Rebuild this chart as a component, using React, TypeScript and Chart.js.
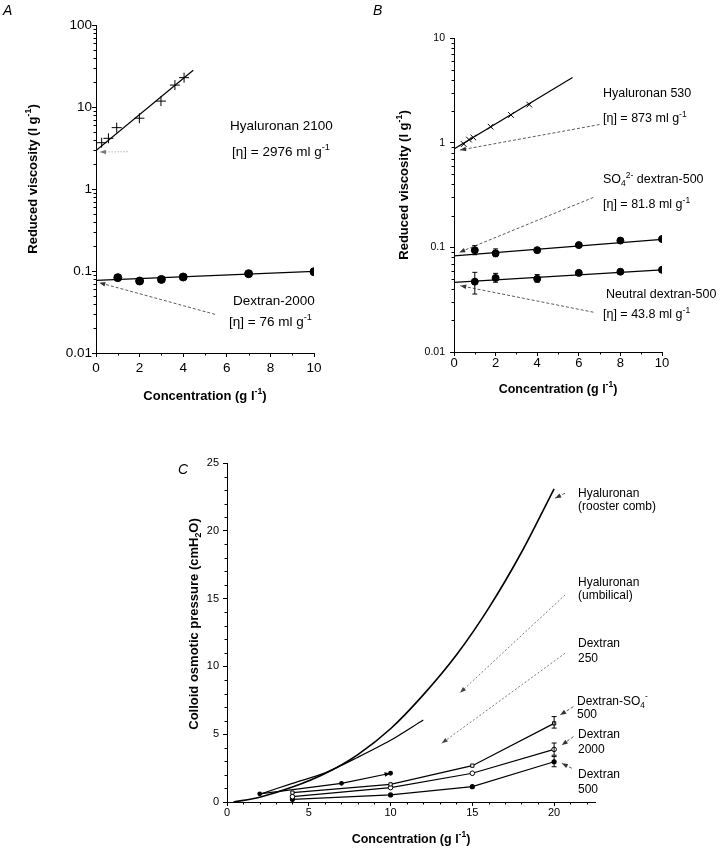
import React, { useEffect, useRef } from 'react';
import { Chart, registerables } from 'chart.js';

Chart.register(...registerables);

const FONT = '"Liberation Sans", Arial, Helvetica, sans-serif';

// ---------------- Panel A ----------------
const A_HYAL_X = [0.26, 0.57, 0.95, 1.99, 2.98, 3.62, 4.04];
const A_HYAL_Y = [3.67, 4.15, 5.6, 7.3, 11.8, 18.5, 22.8];
const A_HYAL_FIT_X = [0, 4.46];
const A_HYAL_FIT_Y = [2.95, 28];
const A_DEX_X = [1, 2, 3, 4, 7, 10];
const A_DEX_Y = [0.083, 0.0755, 0.079, 0.0845, 0.0927, 0.098];
const A_DEX_FIT_X = [0, 10];
const A_DEX_FIT_Y = [0.077, 0.099];
const A_X_TICKS = [0, 2, 4, 6, 8, 10];
const A_X_MINOR = [1, 3, 5, 7, 9];
const A_Y_TICKS = [0.01, 0.1, 1, 10, 100];
const A_Y_LABELS = ['0.01', '0.1', '1', '10', '100'];

// ---------------- Panel B ----------------
const B_HYAL_X = [0.47, 0.72, 0.93, 1.76, 2.74, 3.62];
const B_HYAL_Y = [0.97, 1.07, 1.12, 1.42, 1.84, 2.31];
const B_HYAL_FIT_X = [0, 5.7];
const B_HYAL_FIT_Y = [0.87, 4.2];
const B_SO4_X = [1, 2, 4, 6, 8, 10];
const B_SO4_Y = [0.094, 0.0877, 0.094, 0.105, 0.116, 0.12];
const B_SO4_ERR_LO = [0.085, 0.0815, null, null, null, null];
const B_SO4_ERR_HI = [0.104, 0.0966, null, null, null, null];
const B_SO4_FIT_X = [0, 10];
const B_SO4_FIT_Y = [0.083, 0.119];
const B_NEU_X = [1, 2, 4, 6, 8, 10];
const B_NEU_Y = [0.047, 0.051, 0.05, 0.057, 0.0585, 0.061];
const B_NEU_ERR_LO = [0.0358, 0.0464, 0.0464, null, null, null];
const B_NEU_ERR_HI = [0.0577, 0.0564, 0.0549, null, null, null];
const B_NEU_FIT_X = [0, 10];
const B_NEU_FIT_Y = [0.0463, 0.061];
const B_X_TICKS = [0, 2, 4, 6, 8, 10];
const B_X_MINOR = [1, 3, 5, 7, 9];
const B_Y_TICKS = [0.01, 0.1, 1, 10];
const B_Y_LABELS = ['0.01', '0.1', '1', '10'];

// ---------------- Panel C ----------------
const C_ROOSTER_X = [0.4, 2, 4, 6, 8, 10, 12, 14, 16, 18, 20];
const C_ROOSTER_Y = [0, 0.35, 1.1, 2.1, 3.5, 5.4, 7.9, 10.8, 14.3, 18.4, 23.1];
const C_UMB_X = [2, 4, 6, 8, 10, 12];
const C_UMB_Y = [0.57, 1.38, 2.15, 3.3, 4.55, 6.05];
const C_D250_X = [2, 7, 10];
const C_D250_Y = [0.6, 1.38, 2.12];
const C_DEX_X = [4, 10, 15, 20];
const C_SO4_Y = [0.69, 1.3, 2.68, 5.8];
const C_SO4_ERR_LO = [null, null, null, 5.45];
const C_SO4_ERR_HI = [null, null, null, 6.3];
const C_D2000_Y = [0.39, 1.06, 2.12, 3.88];
const C_D2000_ERR_LO = [null, null, null, 3.45];
const C_D2000_ERR_HI = [null, null, null, 4.35];
const C_D500_Y = [0.2, 0.52, 1.13, 2.97];
const C_D500_ERR_LO = [null, null, null, 2.6];
const C_D500_ERR_HI = [null, null, null, 3.35];
const C_X_TICKS = [0, 5, 10, 15, 20];
const C_X_MINOR = [1, 2, 3, 4, 6, 7, 8, 9, 11, 12, 13, 14, 16, 17, 18, 19, 21, 22];
const C_Y_TICKS = [0, 5, 10, 15, 20, 25];
const C_Y_MINOR = [1, 2, 3, 4, 6, 7, 8, 9, 11, 12, 13, 14, 16, 17, 18, 19, 21, 22, 23, 24];

// ---------------- helpers ----------------
const pts = (xs: number[], ys: number[]) => xs.map((x, i) => ({ x, y: ys[i] }));
const errs = (xs: number[], lo: (number | null)[], hi: (number | null)[]) =>
  xs.map((x, i) => ({ x, lo: lo[i], hi: hi[i] })).filter((e) => e.lo != null && e.hi != null) as { x: number; lo: number; hi: number }[];
const logMinor = (min: number, max: number) => {
  const out: number[] = [];
  for (let d = min; d < max * 0.999; d *= 10) for (let k = 2; k <= 9; k++) out.push(d * k);
  return out;
};

type Seg = { t: string; m: number };
function parseRich(s: string): Seg[] {
  const segs: Seg[] = [];
  let i = 0;
  let buf = '';
  while (i < s.length) {
    const c = s[i];
    if ((c === '^' || c === '_') && s[i + 1] === '{') {
      if (buf) { segs.push({ t: buf, m: 0 }); buf = ''; }
      const end = s.indexOf('}', i + 2);
      segs.push({ t: s.slice(i + 2, end), m: c === '^' ? 1 : -1 });
      i = end + 1;
    } else { buf += c; i++; }
  }
  if (buf) segs.push({ t: buf, m: 0 });
  return segs;
}

type TextItem = { s: string; x: number; y: number; size: number; bold?: boolean; italic?: boolean; align?: 'left' | 'center'; rotate?: boolean };

function drawRich(ctx: CanvasRenderingContext2D, it: TextItem) {
  const segs = parseRich(it.s);
  const pre = (it.italic ? 'italic ' : '') + (it.bold ? 'bold ' : '');
  const fontFor = (m: number) => `${pre}${m === 0 ? it.size : (it.size * 0.68).toFixed(1)}px ${FONT}`;
  let total = 0;
  const widths = segs.map((sg) => { ctx.font = fontFor(sg.m); const w = ctx.measureText(sg.t).width; total += w; return w; });
  ctx.save();
  if (it.rotate) {
    ctx.translate(it.x + it.size * 0.36, it.y);
    ctx.rotate(-Math.PI / 2);
  } else {
    ctx.translate(it.x, it.y);
  }
  let cx = it.align === 'center' ? -total / 2 : 0;
  ctx.textBaseline = 'alphabetic';
  ctx.textAlign = 'left';
  ctx.fillStyle = '#000';
  segs.forEach((sg, i) => {
    ctx.font = fontFor(sg.m);
    const dy = sg.m === 1 ? -it.size * 0.42 : sg.m === -1 ? it.size * 0.25 : 0;
    ctx.fillText(sg.t, cx, dy);
    cx += widths[i];
  });
  ctx.restore();
}

function head(ctx: CanvasRenderingContext2D, x1: number, y1: number, x2: number, y2: number, color: string, L = 6, W = 2.3) {
  const a = Math.atan2(y2 - y1, x2 - x1);
  ctx.fillStyle = color;
  ctx.beginPath();
  ctx.moveTo(x2, y2);
  ctx.lineTo(x2 - L * Math.cos(a) + W * Math.sin(a), y2 - L * Math.sin(a) - W * Math.cos(a));
  ctx.lineTo(x2 - L * Math.cos(a) - W * Math.sin(a), y2 - L * Math.sin(a) + W * Math.cos(a));
  ctx.closePath();
  ctx.fill();
}

type ArrowItem = { x1: number; y1: number; x2: number; y2: number; dash?: number[]; color?: string; width?: number };
type Decor = {
  texts: TextItem[];
  arrows: ArrowItem[];
  errors: { x: number; lo: number; hi: number }[];
  minorX: number[];
  minorY: number[];
  endHeads: { xs: number[]; ys: number[] }[];
};

let decorId = 0;
function makeDecor(cfg: Decor) {
  decorId += 1;
  return {
    id: 'decor' + decorId,
    afterDraw(chart: any) {
      const ctx: CanvasRenderingContext2D = chart.ctx;
      const xs = chart.scales.x;
      const ys = chart.scales.y;
      const area = chart.chartArea;
      ctx.save();
      ctx.strokeStyle = '#000';
      ctx.lineWidth = 1;
      ctx.beginPath();
      cfg.minorX.forEach((v) => {
        const px = Math.round(xs.getPixelForValue(v)) + 0.5;
        ctx.moveTo(px, area.bottom);
        ctx.lineTo(px, area.bottom + 2.5);
      });
      cfg.minorY.forEach((v) => {
        const py = Math.round(ys.getPixelForValue(v)) + 0.5;
        ctx.moveTo(area.left, py);
        ctx.lineTo(area.left - 2.5, py);
      });
      ctx.stroke();
      ctx.beginPath();
      cfg.errors.forEach((e) => {
        const px = xs.getPixelForValue(e.x);
        const p1 = ys.getPixelForValue(e.lo);
        const p2 = ys.getPixelForValue(e.hi);
        ctx.moveTo(px, p1); ctx.lineTo(px, p2);
        ctx.moveTo(px - 2.5, p1); ctx.lineTo(px + 2.5, p1);
        ctx.moveTo(px - 2.5, p2); ctx.lineTo(px + 2.5, p2);
      });
      ctx.stroke();
      cfg.arrows.forEach((a) => {
        const color = a.color || '#333';
        const x1 = xs.getPixelForValue(a.x1), y1 = ys.getPixelForValue(a.y1);
        const x2 = xs.getPixelForValue(a.x2), y2 = ys.getPixelForValue(a.y2);
        ctx.strokeStyle = color;
        ctx.lineWidth = a.width || 0.8;
        ctx.setLineDash(a.dash || [3, 2]);
        ctx.beginPath(); ctx.moveTo(x1, y1); ctx.lineTo(x2, y2); ctx.stroke();
        ctx.setLineDash([]);
        head(ctx, x1, y1, x2, y2, color);
      });
      cfg.endHeads.forEach((h) => {
        const n = h.xs.length;
        head(ctx, xs.getPixelForValue(h.xs[n - 2]), ys.getPixelForValue(h.ys[n - 2]),
          xs.getPixelForValue(h.xs[n - 1]), ys.getPixelForValue(h.ys[n - 1]), '#000', 6, 2.3);
      });
      cfg.texts.forEach((t) => drawRich(ctx, t));
      ctx.restore();
    },
  };
}

type AxisOpt = {
  type: 'linear' | 'logarithmic'; min: number; max: number; ticks: number[]; labels?: string[];
  size: number; pad: number; fit: number; isX: boolean;
};
function axis(o: AxisOpt) {
  return {
    type: o.type,
    position: o.isX ? 'bottom' : 'left',
    min: o.min,
    max: o.max,
    afterBuildTicks: (s: any) => { s.ticks = o.ticks.map((v) => ({ value: v })); },
    afterFit: (s: any) => { if (o.isX) s.height = o.fit; else s.width = o.fit; },
    grid: { drawOnChartArea: false, drawTicks: true, tickLength: 4, color: '#000', lineWidth: 1 },
    border: { display: true, color: '#000', width: 1 },
    ticks: {
      color: '#000',
      font: { family: FONT, size: o.size },
      padding: o.pad,
      maxRotation: 0,
      minRotation: 0,
      autoSkip: false,
      callback: (v: any, i: number) => (o.labels ? o.labels[i] : String(v)),
    },
    title: { display: false },
  };
}

const lineDs = (data: any[], w = 1.2, extra: any = {}) => ({
  data, showLine: true, borderColor: '#000', borderWidth: w, pointRadius: 0, pointHoverRadius: 0, fill: false, ...extra,
});
const pointDs = (data: any[], style: string, r: number, filled: boolean, extra: any = {}) => ({
  data, showLine: false, pointStyle: style, pointRadius: r, pointBorderColor: '#000', pointBorderWidth: 1,
  pointBackgroundColor: filled ? '#000' : '#fff', borderColor: '#000', ...extra,
});

function baseOptions(pad: { left: number; top: number; right: number; bottom: number }, scales: any) {
  return {
    responsive: false,
    maintainAspectRatio: false,
    animation: false,
    devicePixelRatio: 1,
    layout: { padding: pad },
    plugins: { legend: { display: false }, tooltip: { enabled: false }, title: { display: false } },
    events: [],
    scales,
  };
}

function configA() {
  const decor = makeDecor({
    minorX: A_X_MINOR,
    minorY: logMinor(0.01, 100),
    errors: [],
    endHeads: [],
    arrows: [
      { x1: 1.45, y1: 2.85, x2: 0.18, y2: 2.82, dash: [1, 2], color: '#777' },
      { x1: 5.46, y1: 0.0296, x2: 0.15, y2: 0.072, dash: [3, 2], color: '#333' },
    ],
    texts: [
      { s: 'A', x: 3, y: 15, size: 14, italic: true },
      { s: 'Hyaluronan 2100', x: 230, y: 130, size: 13.5 },
      { s: '[η] = 2976 ml g^{-1}', x: 232, y: 156, size: 13.5 },
      { s: 'Dextran-2000', x: 233, y: 305, size: 13.5 },
      { s: '[η] = 76 ml g^{-1}', x: 229, y: 326, size: 13.5 },
      { s: 'Concentration (g l^{-1})', x: 205, y: 399.5, size: 13, bold: true, align: 'center' },
      { s: 'Reduced viscosity (l g^{-1})', x: 32, y: 179, size: 13, bold: true, align: 'center', rotate: true },
    ],
  });
  return {
    type: 'scatter',
    data: {
      datasets: [
        lineDs(pts(A_HYAL_FIT_X, A_HYAL_FIT_Y)),
        lineDs(pts(A_DEX_FIT_X, A_DEX_FIT_Y)),
        pointDs(pts(A_HYAL_X, A_HYAL_Y), 'cross', 5, false),
        pointDs(pts(A_DEX_X, A_DEX_Y), 'circle', 4, true),
      ],
    },
    options: baseOptions({ left: 56, top: 25, right: 46, bottom: 37 }, {
      x: axis({ type: 'linear', min: 0, max: 10, ticks: A_X_TICKS, size: 13.5, pad: 3, fit: 30, isX: true }),
      y: axis({ type: 'logarithmic', min: 0.01, max: 100, ticks: A_Y_TICKS, labels: A_Y_LABELS, size: 13.5, pad: 0, fit: 40, isX: false }),
    }),
    plugins: [decor],
  };
}

function configB() {
  const decor = makeDecor({
    minorX: B_X_MINOR,
    minorY: logMinor(0.01, 10),
    errors: [...errs(B_SO4_X, B_SO4_ERR_LO, B_SO4_ERR_HI), ...errs(B_NEU_X, B_NEU_ERR_LO, B_NEU_ERR_HI)],
    endHeads: [],
    arrows: [
      { x1: 7.0, y1: 1.49, x2: 0.29, y2: 0.85 },
      { x1: 6.7, y1: 0.3, x2: 0.25, y2: 0.0895 },
      { x1: 6.7, y1: 0.024, x2: 0.3, y2: 0.043 },
    ],
    texts: [
      { s: 'B', x: 13, y: 15, size: 14, italic: true },
      { s: 'Hyaluronan 530', x: 243, y: 96.5, size: 12.5 },
      { s: '[η] = 873 ml g^{-1}', x: 243, y: 122, size: 12.5 },
      { s: 'SO_{4}^{2-} dextran-500', x: 243, y: 183, size: 12.5 },
      { s: '[η] = 81.8 ml g^{-1}', x: 243, y: 208, size: 12.5 },
      { s: 'Neutral dextran-500', x: 246, y: 297.5, size: 12.5 },
      { s: '[η] = 43.8 ml g^{-1}', x: 243, y: 318, size: 12.5 },
      { s: 'Concentration (g l^{-1})', x: 198, y: 392.5, size: 12.5, bold: true, align: 'center' },
      { s: 'Reduced viscosity (l g^{-1})', x: 43, y: 185, size: 13, bold: true, align: 'center', rotate: true },
    ],
  });
  return {
    type: 'scatter',
    data: {
      datasets: [
        lineDs(pts(B_HYAL_FIT_X, B_HYAL_FIT_Y)),
        lineDs(pts(B_SO4_FIT_X, B_SO4_FIT_Y)),
        lineDs(pts(B_NEU_FIT_X, B_NEU_FIT_Y)),
        pointDs(pts(B_HYAL_X, B_HYAL_Y), 'crossRot', 4, false),
        pointDs(pts(B_SO4_X, B_SO4_Y), 'circle', 3.5, true),
        pointDs(pts(B_NEU_X, B_NEU_Y), 'circle', 3.5, true),
      ],
    },
    options: baseOptions({ left: 54, top: 38, right: 58, bottom: 38 }, {
      x: axis({ type: 'linear', min: 0, max: 10, ticks: B_X_TICKS, size: 13, pad: 0, fit: 30, isX: true }),
      y: axis({ type: 'logarithmic', min: 0.01, max: 10, ticks: B_Y_TICKS, labels: B_Y_LABELS, size: 10.5, pad: 5, fit: 40, isX: false }),
    }),
    plugins: [decor],
  };
}

function configC() {
  const decor = makeDecor({
    minorX: C_X_MINOR,
    minorY: C_Y_MINOR,
    errors: [
      ...errs(C_DEX_X, C_SO4_ERR_LO, C_SO4_ERR_HI),
      ...errs(C_DEX_X, C_D2000_ERR_LO, C_D2000_ERR_HI),
      ...errs(C_DEX_X, C_D500_ERR_LO, C_D500_ERR_HI),
    ],
    endHeads: [{ xs: C_D250_X, ys: C_D250_Y }],
    arrows: [
      { x1: 20.67, y1: 22.77, x2: 20.06, y2: 22.4 },
      { x1: 20.67, y1: 15.27, x2: 14.25, y2: 8.06, dash: [2, 2], color: '#444', width: 0.7 },
      { x1: 20.67, y1: 10.97, x2: 13.13, y2: 4.33, dash: [2, 2], color: '#444', width: 0.7 },
      { x1: 21.18, y1: 7.03, x2: 20.37, y2: 6.42 },
      { x1: 21.18, y1: 4.82, x2: 20.47, y2: 4.2 },
      { x1: 21.08, y1: 2.49, x2: 20.47, y2: 2.85 },
    ],
    texts: [
      { s: 'C', x: 178, y: 54, size: 14, italic: true },
      { s: 'Hyaluronan', x: 578, y: 77, size: 12 },
      { s: '(rooster comb)', x: 578, y: 90, size: 12 },
      { s: 'Hyaluronan', x: 578, y: 166, size: 12 },
      { s: '(umbilical)', x: 578, y: 179, size: 12 },
      { s: 'Dextran', x: 578, y: 227, size: 12 },
      { s: '250', x: 578, y: 242, size: 12 },
      { s: 'Dextran-SO_{4}^{-}', x: 577, y: 284.5, size: 12 },
      { s: '500', x: 577, y: 298, size: 12 },
      { s: 'Dextran', x: 578, y: 318, size: 12 },
      { s: '2000', x: 578, y: 332.5, size: 12 },
      { s: 'Dextran', x: 578, y: 358, size: 12 },
      { s: '500', x: 578, y: 372.5, size: 12 },
      { s: 'Concentration (g l^{-1})', x: 411, y: 422.5, size: 12.5, bold: true, align: 'center' },
      { s: 'Colloid osmotic pressure (cmH_{2}O)', x: 193, y: 204, size: 13, bold: true, align: 'center', rotate: true },
    ],
  });
  return {
    type: 'scatter',
    data: {
      datasets: [
        lineDs(pts(C_ROOSTER_X, C_ROOSTER_Y), 1.6, { tension: 0.3 }),
        lineDs(pts(C_UMB_X, C_UMB_Y), 1.3, { tension: 0.3 }),
        lineDs(pts(C_D250_X, C_D250_Y), 1.2, { pointRadius: 1.8, pointBackgroundColor: '#000', pointBorderColor: '#000' }),
        lineDs(pts(C_DEX_X, C_SO4_Y), 1.2, { pointRadius: 2.3, pointStyle: 'rect', pointBackgroundColor: '#fff', pointBorderColor: '#000', pointBorderWidth: 1 }),
        lineDs(pts(C_DEX_X, C_D2000_Y), 1.2, { pointRadius: 2.3, pointStyle: 'circle', pointBackgroundColor: '#fff', pointBorderColor: '#000', pointBorderWidth: 1 }),
        lineDs(pts(C_DEX_X, C_D500_Y), 1.2, { pointRadius: 2, pointStyle: 'circle', pointBackgroundColor: '#000', pointBorderColor: '#000' }),
      ],
    },
    options: baseOptions({ left: 187, top: 43, right: 125, bottom: 21 }, {
      x: axis({ type: 'linear', min: 0, max: 22.5, ticks: C_X_TICKS, size: 11, pad: 0, fit: 30, isX: true }),
      y: axis({ type: 'linear', min: 0, max: 25, ticks: C_Y_TICKS, size: 11, pad: 4, fit: 40, isX: false }),
    }),
    plugins: [decor],
  };
}

function ChartBox(props: { left: number; top: number; width: number; height: number; make: () => any }) {
  const ref = useRef<HTMLCanvasElement | null>(null);
  useEffect(() => {
    if (!ref.current) return;
    const chart = new Chart(ref.current, props.make());
    return () => chart.destroy();
  }, []);
  const { left, top, width, height } = props;
  return (
    <div style={{ position: 'absolute', left, top, width, height }}>
      <canvas ref={ref} width={width} height={height} style={{ width, height, display: 'block' }} />
    </div>
  );
}

export default function App() {
  return (
    <div style={{ position: 'absolute', left: 0, top: 0, width: 720, height: 853, background: '#fff' }}>
      <ChartBox left={0} top={0} width={360} height={420} make={configA} />
      <ChartBox left={360} top={0} width={360} height={420} make={configB} />
      <ChartBox left={0} top={420} width={720} height={433} make={configC} />
    </div>
  );
}
